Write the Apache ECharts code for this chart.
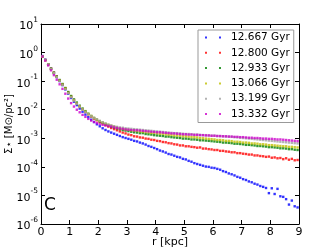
<!DOCTYPE html>
<html><head><meta charset="utf-8">
<script src="https://cdn.jsdelivr.net/npm/echarts@6/dist/echarts.min.js"></script>
<style>html,body{margin:0;padding:0;background:#fff}#c{width:332px;height:249px}</style>
</head><body><div id="c"></div>
<script>
// radius sampling points [kpc]
const radius = [0.05,0.15,0.25,0.35,0.45,0.55,0.65,0.75,0.85,0.95,
1.05,1.15,1.25,1.35,1.45,1.55,1.65,1.75,1.85,1.95,
2.05,2.15,2.25,2.35,2.45,2.55,2.65,2.75,2.85,2.95,
3.05,3.15,3.25,3.35,3.45,3.55,3.65,3.75,3.85,3.95,
4.05,4.15,4.25,4.35,4.45,4.55,4.65,4.75,4.85,4.95,
5.05,5.15,5.25,5.35,5.45,5.55,5.65,5.75,5.85,5.95,
6.05,6.15,6.25,6.35,6.45,6.55,6.65,6.75,6.85,6.95,
7.05,7.15,7.25,7.35,7.45,7.55,7.65,7.75,7.85,7.95,
8.05,8.15,8.25,8.35,8.45,8.55,8.65,8.75,8.85,8.95];

// log10 of surface density Σ* [M☉/pc²]
const log12667 = [-0.12,-0.25,-0.41,-0.57,-0.72,-0.86,-1.00,-1.14,-1.29,-1.44,
-1.59,-1.72,-1.84,-1.96,-2.07,-2.17,-2.26,-2.35,-2.43,-2.51,
-2.58,-2.65,-2.71,-2.76,-2.80,-2.84,-2.88,-2.92,-2.96,-2.99,
-3.02,-3.05,-3.09,-3.11,-3.15,-3.18,-3.22,-3.27,-3.30,-3.34,
-3.38,-3.43,-3.46,-3.50,-3.55,-3.57,-3.61,-3.65,-3.67,-3.72,
-3.74,-3.79,-3.82,-3.87,-3.90,-3.93,-3.96,-3.99,-4.00,-4.03,
-4.04,-4.07,-4.10,-4.15,-4.18,-4.23,-4.26,-4.30,-4.35,-4.38,
-4.43,-4.46,-4.51,-4.54,-4.59,-4.62,-4.67,-4.70,-4.74,-4.92,
-4.75,-4.95,-4.77,-5.03,-5.05,-5.13,-5.32,-5.18,-5.38,-5.42];
const log12800 = [-0.13,-0.26,-0.41,-0.56,-0.70,-0.83,-0.97,-1.11,-1.25,-1.40,
-1.54,-1.66,-1.77,-1.88,-1.98,-2.08,-2.16,-2.24,-2.31,-2.37,
-2.42,-2.48,-2.54,-2.59,-2.64,-2.68,-2.72,-2.76,-2.80,-2.83,
-2.87,-2.89,-2.93,-2.94,-2.97,-2.98,-3.01,-3.02,-3.05,-3.06,
-3.09,-3.10,-3.13,-3.14,-3.17,-3.18,-3.21,-3.22,-3.25,-3.25,
-3.28,-3.28,-3.30,-3.31,-3.33,-3.32,-3.36,-3.36,-3.38,-3.39,
-3.41,-3.41,-3.44,-3.44,-3.46,-3.47,-3.49,-3.49,-3.52,-3.52,
-3.54,-3.55,-3.57,-3.57,-3.60,-3.60,-3.62,-3.63,-3.65,-3.64,
-3.68,-3.67,-3.70,-3.69,-3.73,-3.70,-3.75,-3.72,-3.77,-3.76];
const log12933 = [-0.14,-0.26,-0.41,-0.56,-0.70,-0.83,-0.96,-1.10,-1.24,-1.38,
-1.52,-1.64,-1.75,-1.86,-1.96,-2.05,-2.14,-2.22,-2.29,-2.35,
-2.41,-2.46,-2.51,-2.55,-2.59,-2.62,-2.65,-2.68,-2.71,-2.73,
-2.75,-2.77,-2.79,-2.80,-2.82,-2.82,-2.85,-2.86,-2.87,-2.89,
-2.90,-2.91,-2.92,-2.94,-2.94,-2.96,-2.97,-2.98,-2.99,-3.01,
-3.01,-3.02,-3.04,-3.04,-3.05,-3.07,-3.07,-3.08,-3.09,-3.10,
-3.11,-3.12,-3.13,-3.15,-3.15,-3.16,-3.17,-3.19,-3.19,-3.20,
-3.21,-3.23,-3.23,-3.24,-3.25,-3.27,-3.27,-3.28,-3.29,-3.31,
-3.31,-3.32,-3.33,-3.35,-3.35,-3.36,-3.38,-3.38,-3.40,-3.41];
const log13066 = [-0.15,-0.27,-0.42,-0.58,-0.72,-0.85,-0.98,-1.12,-1.26,-1.41,
-1.55,-1.67,-1.78,-1.88,-1.98,-2.07,-2.15,-2.22,-2.29,-2.35,
-2.40,-2.45,-2.49,-2.53,-2.56,-2.59,-2.62,-2.65,-2.67,-2.69,
-2.70,-2.72,-2.73,-2.74,-2.76,-2.77,-2.78,-2.79,-2.81,-2.81,
-2.82,-2.84,-2.84,-2.86,-2.87,-2.88,-2.90,-2.90,-2.91,-2.93,
-2.93,-2.94,-2.96,-2.96,-2.97,-2.99,-3.00,-3.01,-3.02,-3.03,
-3.04,-3.06,-3.06,-3.07,-3.09,-3.09,-3.10,-3.12,-3.12,-3.13,
-3.15,-3.15,-3.16,-3.18,-3.18,-3.19,-3.21,-3.21,-3.22,-3.24,
-3.24,-3.25,-3.26,-3.27,-3.28,-3.28,-3.30,-3.30,-3.31,-3.32];
const log13199 = [-0.13,-0.26,-0.41,-0.57,-0.71,-0.85,-0.99,-1.13,-1.28,-1.42,
-1.56,-1.68,-1.79,-1.89,-1.99,-2.08,-2.16,-2.23,-2.29,-2.34,
-2.39,-2.44,-2.48,-2.52,-2.55,-2.58,-2.60,-2.62,-2.63,-2.65,
-2.66,-2.67,-2.68,-2.69,-2.70,-2.71,-2.72,-2.73,-2.74,-2.75,
-2.76,-2.77,-2.78,-2.79,-2.80,-2.81,-2.82,-2.82,-2.83,-2.84,
-2.85,-2.85,-2.86,-2.87,-2.87,-2.88,-2.89,-2.89,-2.90,-2.91,
-2.91,-2.92,-2.93,-2.93,-2.94,-2.94,-2.95,-2.96,-2.97,-2.98,
-2.99,-3.00,-3.01,-3.02,-3.03,-3.04,-3.05,-3.06,-3.07,-3.08,
-3.09,-3.10,-3.11,-3.12,-3.13,-3.14,-3.15,-3.16,-3.17,-3.18];
const log13332 = [-0.14,-0.28,-0.45,-0.62,-0.79,-0.95,-1.11,-1.27,-1.44,-1.61,
-1.77,-1.89,-2.00,-2.09,-2.18,-2.25,-2.32,-2.38,-2.43,-2.47,
-2.50,-2.53,-2.55,-2.57,-2.59,-2.62,-2.64,-2.66,-2.67,-2.69,
-2.70,-2.71,-2.72,-2.72,-2.73,-2.74,-2.75,-2.76,-2.77,-2.78,
-2.79,-2.79,-2.80,-2.81,-2.82,-2.83,-2.83,-2.84,-2.85,-2.86,
-2.86,-2.87,-2.87,-2.88,-2.88,-2.89,-2.89,-2.90,-2.90,-2.91,
-2.91,-2.92,-2.92,-2.93,-2.93,-2.94,-2.94,-2.95,-2.95,-2.96,
-2.96,-2.97,-2.98,-2.98,-2.99,-2.99,-3.00,-3.01,-3.01,-3.02,
-3.02,-3.03,-3.04,-3.04,-3.05,-3.06,-3.07,-3.08,-3.09,-3.10];

const seriesNames = ['12.667 Gyr','12.800 Gyr','12.933 Gyr','13.066 Gyr','13.199 Gyr','13.332 Gyr'];
const seriesLogs = [log12667, log12800, log12933, log13066, log13199, log13332];
const seriesColors = ['#0000ff','#ff0000','#008000','#bfbf00','#a0a0a0','#cc00cc'];

const font = 'DejaVu Sans';
const chart = echarts.init(document.getElementById('c'), null, {renderer:'canvas'});

const series = seriesNames.map((name, i) => ({
  name, type:'scatter', xAxisIndex:0, yAxisIndex:0,
  symbol:'rect', symbolSize:2.4,
  itemStyle:{color:seriesColors[i]},
  emphasis:{disabled:true}, silent:true,
  data: radius.map((r, j) => [r, Math.pow(10, seriesLogs[i][j])])
}));

const tickStyle = {show:true, inside:true, length:4, lineStyle:{color:'#000', width:1}};
chart.setOption({
  animation:false,
  backgroundColor:'#fff',
  grid:{left:41, right:33, top:24, bottom:25, containLabel:false, outerBoundsMode:'none'},
  legend:{
    orient:'vertical', left:198, top:30,
    padding:[1,4,2,7], itemGap:2.3,
    itemWidth:21, itemHeight:2,
    icon:'path://M0,0h2v2h-2zM14,0h2v2h-2zM21,0h0.01v0.01h-0.01z',
    borderColor:'#999', borderWidth:1, borderRadius:0, backgroundColor:'#fff',
    textStyle:{fontFamily:font, fontSize:10.5, color:'#000', lineHeight:13},
    selectedMode:false,
    data:seriesNames
  },
  xAxis:[
    {type:'value', min:0, max:9, interval:1, position:'bottom',
     axisLine:{show:true, onZero:false, lineStyle:{color:'#000', width:1}},
     axisTick:tickStyle, splitLine:{show:false},
     axisLabel:{fontFamily:font, fontSize:11, color:'#000', margin:3},
     name:'r [kpc]', nameLocation:'middle', nameGap:12.5, nameMoveOverlap:false,
     nameTextStyle:{fontFamily:font, fontSize:11, color:'#000'}},
    {type:'value', min:0, max:9, interval:1, position:'top',
     axisLine:{show:true, onZero:false, lineStyle:{color:'#000', width:1}},
     axisTick:tickStyle, splitLine:{show:false}, axisLabel:{show:false}}
  ],
  yAxis:[
    {type:'log', logBase:10, min:1e-6, max:10, position:'left',
     axisLine:{show:true, onZero:false, lineStyle:{color:'#000', width:1}},
     axisTick:tickStyle, splitLine:{show:false},
     axisLabel:{margin:3, color:'#000',
       formatter:(v)=>{const e=Math.round(Math.log10(v)); return '{b|10}{e|'+(e<0?'-':'')+Math.abs(e)+'}';},
       rich:{b:{fontFamily:font, fontSize:11, color:'#000', lineHeight:16, verticalAlign:'bottom'},
             e:{fontFamily:font, fontSize:7.5, color:'#000', lineHeight:16, verticalAlign:'top'}}},
     name:'Σ⋆ [M⊙/pc²]', nameLocation:'middle', nameGap:27, nameRotate:90, nameMoveOverlap:false,
     nameTextStyle:{fontFamily:font, fontSize:10, color:'#000'}},
    {type:'log', logBase:10, min:1e-6, max:10, position:'right',
     axisLine:{show:true, onZero:false, lineStyle:{color:'#000', width:1}},
     axisTick:tickStyle, splitLine:{show:false}, axisLabel:{show:false}}
  ],
  graphic:[{type:'text', style:{text:'C', x:44, y:206, verticalAlign:'middle',
    fontFamily:font, fontSize:17, fill:'#000'}}],
  series
});
</script>
</body></html>
